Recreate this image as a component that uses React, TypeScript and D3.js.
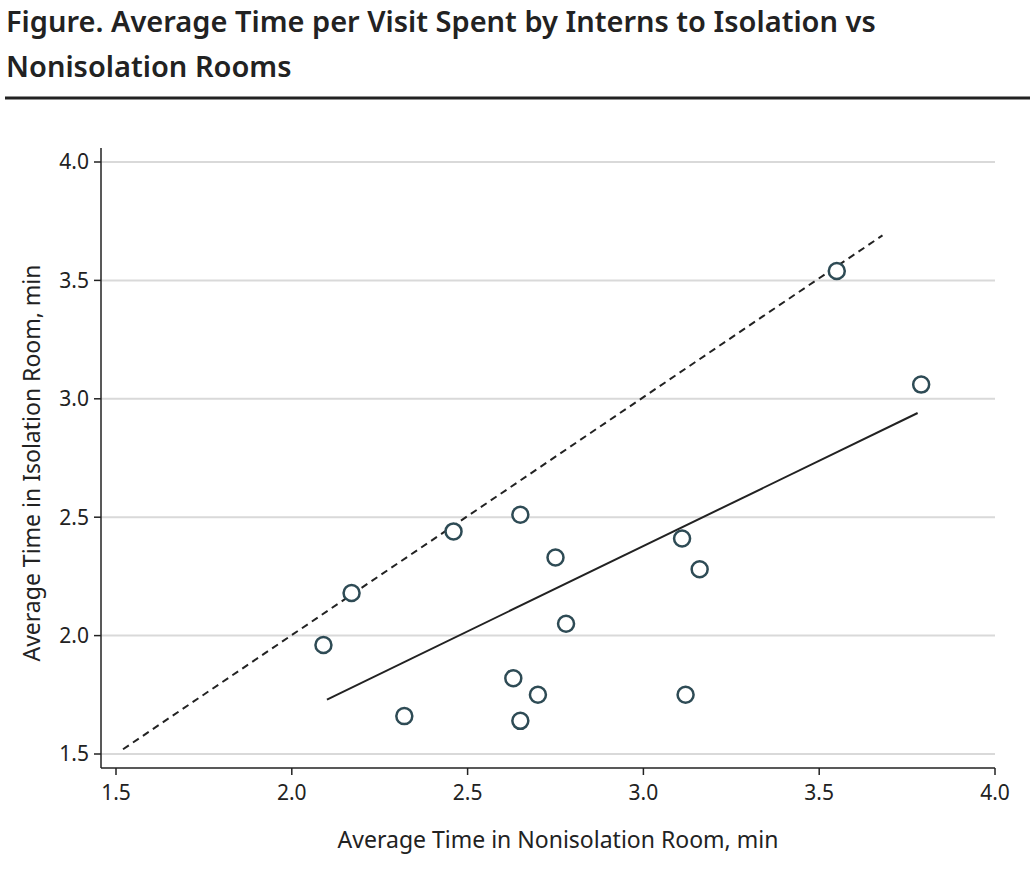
import * as d3 from 'd3';

// Interns: average time (min) in nonisolation vs isolation rooms
const nonIsolation = [2.09, 2.17, 2.46, 2.65, 2.75, 2.78, 2.63, 2.70, 2.65, 2.32, 3.11, 3.16, 3.12, 3.55, 3.79];
const isolation = [1.96, 2.18, 2.44, 2.51, 2.33, 2.05, 1.82, 1.75, 1.64, 1.66, 2.41, 2.28, 1.75, 3.54, 3.06];
const xTicks = [1.5, 2.0, 2.5, 3.0, 3.5, 4.0];
const yTicks = [1.5, 2.0, 2.5, 3.0, 3.5, 4.0];
const identityLine: [number, number][] = [[1.52, 1.52], [3.68, 3.69]];
const fitLine: [number, number][] = [[2.1, 1.73], [3.78, 2.94]];

export default function App() {
    const width = 1036;
    const height = 870;
    const left = 101, right = 995, top = 148, bottom = 768;

    const x = d3.scaleLinear().domain([1.5, 4.0]).range([116, 995]);
    const y = d3.scaleLinear().domain([1.5, 4.0]).range([754, 162]);
    const line = d3.line<[number, number]>().x(d => x(d[0])).y(d => y(d[1]));
    const font = "'Noto Sans', 'DejaVu Sans', sans-serif";

    return (
        <svg width={width} height={height} style={{ position: 'absolute', left: 0, top: 0, background: '#fff' }}
            fontFamily={font}>
            <text x={6} y={32} fontSize={29} fontWeight={600} fill="#222">Figure. Average Time per Visit Spent by Interns to Isolation vs</text>
            <text x={6} y={77} fontSize={29} fontWeight={600} fill="#222">Nonisolation Rooms</text>
            <line x1={5} x2={1030} y1={98} y2={98} stroke="#222" strokeWidth={3} />

            {/* grid */}
            {yTicks.map(t => (
                <line key={'g' + t} x1={left} x2={right} y1={y(t)} y2={y(t)} stroke="#d9d9d9" strokeWidth={2} />
            ))}
            {/* axes */}
            <line x1={left} x2={left} y1={top} y2={bottom} stroke="#222" strokeWidth={1.5} />
            <line x1={left} x2={right} y1={bottom} y2={bottom} stroke="#222" strokeWidth={1.5} />
            {yTicks.map(t => (
                <g key={'y' + t}>
                    <line x1={left - 7} x2={left} y1={y(t)} y2={y(t)} stroke="#222" strokeWidth={1.5} />
                    <text x={left - 12} y={y(t)} dy="0.35em" textAnchor="end" fontSize={21} fill="#222">{t.toFixed(1)}</text>
                </g>
            ))}
            {xTicks.map(t => (
                <g key={'x' + t}>
                    <line x1={x(t)} x2={x(t)} y1={bottom} y2={bottom + 7} stroke="#222" strokeWidth={1.5} />
                    <text x={x(t)} y={bottom + 32} textAnchor="middle" fontSize={21} fill="#222">{t.toFixed(1)}</text>
                </g>
            ))}
            <text x={(left + right) / 2 + 10} y={848} textAnchor="middle" fontSize={23} fill="#222">Average Time in Nonisolation Room, min</text>
            <text transform={`translate(40, ${(top + bottom) / 2 + 5}) rotate(-90)`} textAnchor="middle" fontSize={23} fill="#222">Average Time in Isolation Room, min</text>

            <path d={line(identityLine) || ''} fill="none" stroke="#222" strokeWidth={2} strokeDasharray="7,5" />
            <path d={line(fitLine) || ''} fill="none" stroke="#222" strokeWidth={2} />

            {nonIsolation.map((v, i) => (
                <circle key={i} cx={x(v)} cy={y(isolation[i])} r={8} fill="#fff" stroke="#2e4b55" strokeWidth={2.5} />
            ))}
        </svg>
    );
}
